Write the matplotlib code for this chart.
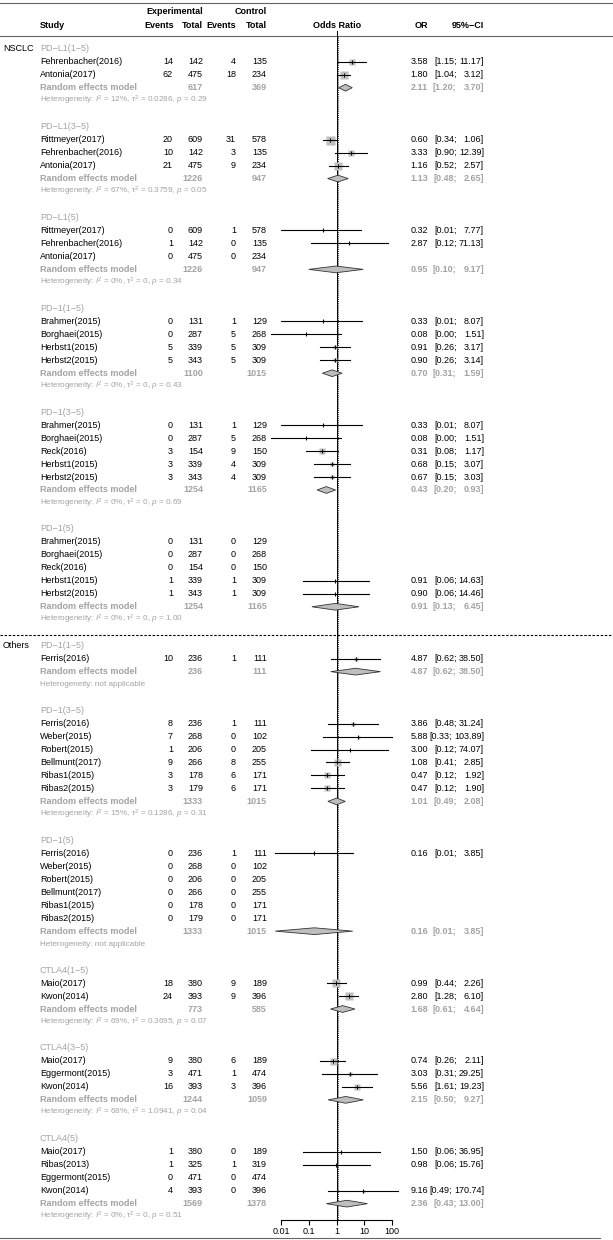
import numpy as np
import matplotlib
matplotlib.use("Agg")
import matplotlib.pyplot as plt
from matplotlib.patches import Polygon
from matplotlib.ticker import NullLocator

plt.rcParams['font.family'] = ['Liberation Sans', 'DejaVu Sans']
plt.rcParams['mathtext.fontset'] = 'custom'
plt.rcParams['mathtext.rm'] = 'Liberation Sans'
plt.rcParams['mathtext.it'] = 'Liberation Sans:italic'
plt.rcParams['mathtext.bf'] = 'Liberation Sans:bold'

M = "\u2212"
nan = np.nan

# ---- data ----
sections = ["NSCLC", "Others"]
groups = ["PD-L1(1-5)", "PD-L1(3-5)", "PD-L1(5)", "PD-1(1-5)", "PD-1(3-5)", "PD-1(5)",
          "PD-1(1-5)", "PD-1(3-5)", "PD-1(5)", "CTLA4(1-5)", "CTLA4(3-5)", "CTLA4(5)"]
group_section = [0, 0, 0, 0, 0, 0, 1, 1, 1, 1, 1, 1]

study = ["Fehrenbacher(2016)", "Antonia(2017)",
         "Rittmeyer(2017)", "Fehrenbacher(2016)", "Antonia(2017)",
         "Rittmeyer(2017)", "Fehrenbacher(2016)", "Antonia(2017)",
         "Brahmer(2015)", "Borghaei(2015)", "Herbst1(2015)", "Herbst2(2015)",
         "Brahmer(2015)", "Borghaei(2015)", "Reck(2016)", "Herbst1(2015)", "Herbst2(2015)",
         "Brahmer(2015)", "Borghaei(2015)", "Reck(2016)", "Herbst1(2015)", "Herbst2(2015)",
         "Ferris(2016)",
         "Ferris(2016)", "Weber(2015)", "Robert(2015)", "Bellmunt(2017)", "Ribas1(2015)", "Ribas2(2015)",
         "Ferris(2016)", "Weber(2015)", "Robert(2015)", "Bellmunt(2017)", "Ribas1(2015)", "Ribas2(2015)",
         "Maio(2017)", "Kwon(2014)",
         "Maio(2017)", "Eggermont(2015)", "Kwon(2014)",
         "Maio(2017)", "Ribas(2013)", "Eggermont(2015)", "Kwon(2014)"]
grp = [0, 0, 1, 1, 1, 2, 2, 2, 3, 3, 3, 3, 4, 4, 4, 4, 4, 5, 5, 5, 5, 5,
       6, 7, 7, 7, 7, 7, 7, 8, 8, 8, 8, 8, 8, 9, 9, 10, 10, 10, 11, 11, 11, 11]
ev_e = [14, 62, 20, 10, 21, 0, 1, 0, 0, 0, 5, 5, 0, 0, 3, 3, 3, 0, 0, 0, 1, 1,
        10, 8, 7, 1, 9, 3, 3, 0, 0, 0, 0, 0, 0, 18, 24, 9, 3, 16, 1, 1, 0, 4]
n_e = [142, 475, 609, 142, 475, 609, 142, 475, 131, 287, 339, 343, 131, 287, 154, 339, 343,
       131, 287, 154, 339, 343, 236, 236, 268, 206, 266, 178, 179, 236, 268, 206, 266, 178, 179,
       380, 393, 380, 471, 393, 380, 325, 471, 393]
ev_c = [4, 18, 31, 3, 9, 1, 0, 0, 1, 5, 5, 5, 1, 5, 9, 4, 4, 0, 0, 0, 1, 1,
        1, 1, 0, 0, 8, 6, 6, 1, 0, 0, 0, 0, 0, 9, 9, 6, 1, 3, 0, 1, 0, 0]
n_c = [135, 234, 578, 135, 234, 578, 135, 234, 129, 268, 309, 309, 129, 268, 150, 309, 309,
       129, 268, 150, 309, 309, 111, 111, 102, 205, 255, 171, 171, 111, 102, 205, 255, 171, 171,
       189, 396, 189, 474, 396, 189, 319, 474, 396]
or_ = [3.58, 1.80, 0.60, 3.33, 1.16, 0.32, 2.87, nan, 0.33, 0.08, 0.91, 0.90,
       0.33, 0.08, 0.31, 0.68, 0.67, nan, nan, nan, 0.91, 0.90,
       4.87, 3.86, 5.88, 3.00, 1.08, 0.47, 0.47, 0.16, nan, nan, nan, nan, nan,
       0.99, 2.80, 0.74, 3.03, 5.56, 1.50, 0.98, nan, 9.16]
lo = [1.15, 1.04, 0.34, 0.90, 0.52, 0.01, 0.12, nan, 0.01, 0.0043, 0.26, 0.26,
      0.01, 0.0043, 0.08, 0.15, 0.15, nan, nan, nan, 0.06, 0.06,
      0.62, 0.48, 0.33, 0.12, 0.41, 0.12, 0.12, 0.0062, nan, nan, nan, nan, nan,
      0.44, 1.28, 0.26, 0.31, 1.61, 0.06, 0.06, nan, 0.49]
hi = [11.17, 3.12, 1.06, 12.39, 2.57, 7.77, 71.13, nan, 8.07, 1.51, 3.17, 3.14,
      8.07, 1.51, 1.17, 3.07, 3.03, nan, nan, nan, 14.63, 14.46,
      38.50, 31.24, 103.89, 74.07, 2.85, 1.92, 1.90, 3.85, nan, nan, nan, nan, nan,
      2.26, 6.10, 2.11, 29.25, 19.23, 36.95, 15.76, nan, 170.74]
weight = [36, 56, 81, 36, 64, 6, 6, 0, 6, 6, 25, 25, 6, 6, 36, 25, 25, 0, 0, 0, 6, 6,
          12, 20, 9, 6, 49, 36, 36, 6, 0, 0, 0, 0, 0, 64, 64, 49, 12, 36, 6, 6, 0, 9]

re_or = [2.11, 1.13, 0.95, 0.70, 0.43, 0.91, 4.87, 1.01, 0.16, 1.68, 2.15, 2.36]
re_lo = [1.20, 0.48, 0.10, 0.31, 0.20, 0.13, 0.62, 0.49, 0.0062, 0.61, 0.50, 0.43]
re_hi = [3.70, 2.65, 9.17, 1.59, 0.93, 6.45, 38.50, 2.08, 3.85, 4.64, 9.27, 13.00]
re_ne = [617, 1226, 1226, 1100, 1254, 1254, 236, 1333, 1333, 773, 1244, 1569]
re_nc = [369, 947, 947, 1015, 1165, 1165, 111, 1015, 1015, 585, 1059, 1378]
het_i2 = [12, 67, 0, 0, 0, 0, None, 15, None, 69, 68, 0]
het_tau2 = [0.0286, 0.3759, 0, 0, 0, 0, None, 0.1286, None, 0.3695, 1.0941, 0]
het_p = [0.29, 0.05, 0.34, 0.43, 0.69, 1.00, None, 0.31, None, 0.07, 0.04, 0.51]
overall_or = 1.13

ticks = [0.01, 0.1, 1, 10, 100]
tick_labels = ["0.01", "0.1", "1", "10", "100"]

# ---- layout ----
ROW0, DY = 48.8, 12.976
def prow(px):
    return (px - ROW0) / DY

FS = 6.5
FSH = 5.9
GREY = '#A3A3A3'
DIG = 0.556 * FS * 100 / 72

row_head, row_re, row_het = [], [], []
row_st = [0] * len(study)
r = 0
for g in range(len(groups)):
    row_head.append(r)
    r += 1
    for i in range(len(study)):
        if grp[i] == g:
            row_st[i] = r
            r += 1
    row_re.append(r)
    row_het.append(r + 1)
    r += 3

fig = plt.figure(figsize=(6.13, 12.4), dpi=100)
tab = fig.add_axes([0, 0, 1, 1])
tab.set_xlim(0, 613)
tab.set_ylim(prow(1240), prow(0))
tab.axis('off')

fax = fig.add_axes([250 / 613, 20 / 1240, 170 / 613, 1220 / 1240])
fax.set_xscale('log')
fax.set_xlim(10 ** ((250 - 336.5) / 27.75), 10 ** ((420 - 336.5) / 27.75))
fax.set_ylim(prow(1220), prow(0))
fax.patch.set_visible(False)
for s in ['top', 'left', 'right']:
    fax.spines[s].set_visible(False)
fax.spines['bottom'].set_bounds(0.01, 100)
fax.spines['bottom'].set_linewidth(0.8)
fax.set_yticks([])
fax.set_xticks(ticks, tick_labels)
fax.xaxis.set_minor_locator(NullLocator())
fax.tick_params(axis='x', direction='out', length=3.6, width=0.8, labelsize=FS, pad=1.5)


def txt(x, row, s, ha='left', color='black', bold=False, size=FS):
    tab.text(x, row, s, ha=ha, va='center', fontsize=size, color=color,
             fontweight='bold' if bold else 'normal')


def ci(row, a, b, color='black', bold=False):
    hs = f"{b:.2f}"
    txt(484, row, hs + "]", ha='right', color=color, bold=bold)
    w = (max(len(hs), 5) - 1) * DIG + 0.278 * FS * 100 / 72 * 2
    txt(484 - w - 2.4, row, f"[{a:.2f};", ha='right', color=color, bold=bold)


# header
tab.plot([0, 613], [prow(3), prow(3)], color='#666666', lw=0.8)
tab.plot([0, 613], [prow(36), prow(36)], color='#666666', lw=0.8)
tab.plot([0, 600], [prow(1238), prow(1238)], color='#666666', lw=0.8)
txt(203, prow(11.5), "Experimental", ha='right', bold=True)
txt(267, prow(11.5), "Control", ha='right', bold=True)
hy = prow(25)
txt(40, hy, "Study", bold=True)
txt(174, hy, "Events", ha='right', bold=True)
txt(203, hy, "Total", ha='right', bold=True)
txt(236, hy, "Events", ha='right', bold=True)
txt(267, hy, "Total", ha='right', bold=True)
txt(337, hy, "Odds Ratio", ha='center', bold=True)
txt(428, hy, "OR", ha='right', bold=True)
txt(484, hy, "95%" + M + "CI", ha='right', bold=True)

# reference lines
fax.plot([1, 1], [prow(31), prow(1220)], color='black', lw=0.7, clip_on=False, zorder=1)
fax.plot([overall_or, overall_or], [prow(36), prow(1220)], color='black', lw=0.6,
         ls=(0, (1, 1.3)), clip_on=False, zorder=1)

for g in range(len(groups)):
    if g == 0 or group_section[g] != group_section[g - 1]:
        txt(3, row_head[g], sections[group_section[g]])
    if g > 0 and group_section[g] != group_section[g - 1]:
        yy = row_head[g] - 0.8
        tab.plot([0, 613], [yy, yy], color='black', lw=0.8, ls=(0, (2.2, 1.5)))
    txt(40, row_head[g], groups[g].replace("-", M), color=GREY)

    rr = row_re[g]
    txt(40, rr, "Random effects model", color=GREY, bold=True)
    txt(203, rr, str(re_ne[g]), ha='right', color=GREY, bold=True)
    txt(267, rr, str(re_nc[g]), ha='right', color=GREY, bold=True)
    txt(428, rr, f"{re_or[g]:.2f}", ha='right', color=GREY, bold=True)
    ci(rr, re_lo[g], re_hi[g], color=GREY, bold=True)
    h = 0.26
    dia = Polygon([[re_lo[g], rr], [re_or[g], rr - h], [re_hi[g], rr], [re_or[g], rr + h]],
                  closed=True, facecolor='#BEBEBE', edgecolor='#333333', lw=0.6,
                  zorder=4, clip_on=False)
    fax.add_patch(dia)

    if het_i2[g] is None:
        hs = "Heterogeneity: not applicable"
    else:
        t2 = "0" if het_tau2[g] == 0 else f"{het_tau2[g]:.4f}"
        hs = (r"Heterogeneity: $I^2$ = " + f"{het_i2[g]}%, " + "\u03c4$^2$ = "
              + t2 + r", $p$ = " + f"{het_p[g]:.2f}")
    txt(40, row_het[g], hs, color=GREY, size=FSH)

for i in range(len(study)):
    rr = row_st[i]
    txt(40, rr, study[i])
    txt(173, rr, str(ev_e[i]), ha='right')
    txt(203, rr, str(n_e[i]), ha='right')
    txt(236, rr, str(ev_c[i]), ha='right')
    txt(267, rr, str(n_c[i]), ha='right')
    if not np.isnan(or_[i]):
        txt(428, rr, f"{or_[i]:.2f}", ha='right')
        ci(rr, lo[i], hi[i])
        fax.plot(or_[i], rr, marker='s', ms=np.sqrt(weight[i]) * 0.72, color='#BEBEBE',
                 mec='none', zorder=2, clip_on=False)
        fax.plot([lo[i], hi[i]], [rr, rr], color='black', lw=0.8, zorder=3, clip_on=False)
        fax.plot(or_[i], rr, marker='|', ms=2.2, mew=0.7, color='black', zorder=3,
                 clip_on=False)

fig.savefig("out.png", dpi=100, facecolor='white')
